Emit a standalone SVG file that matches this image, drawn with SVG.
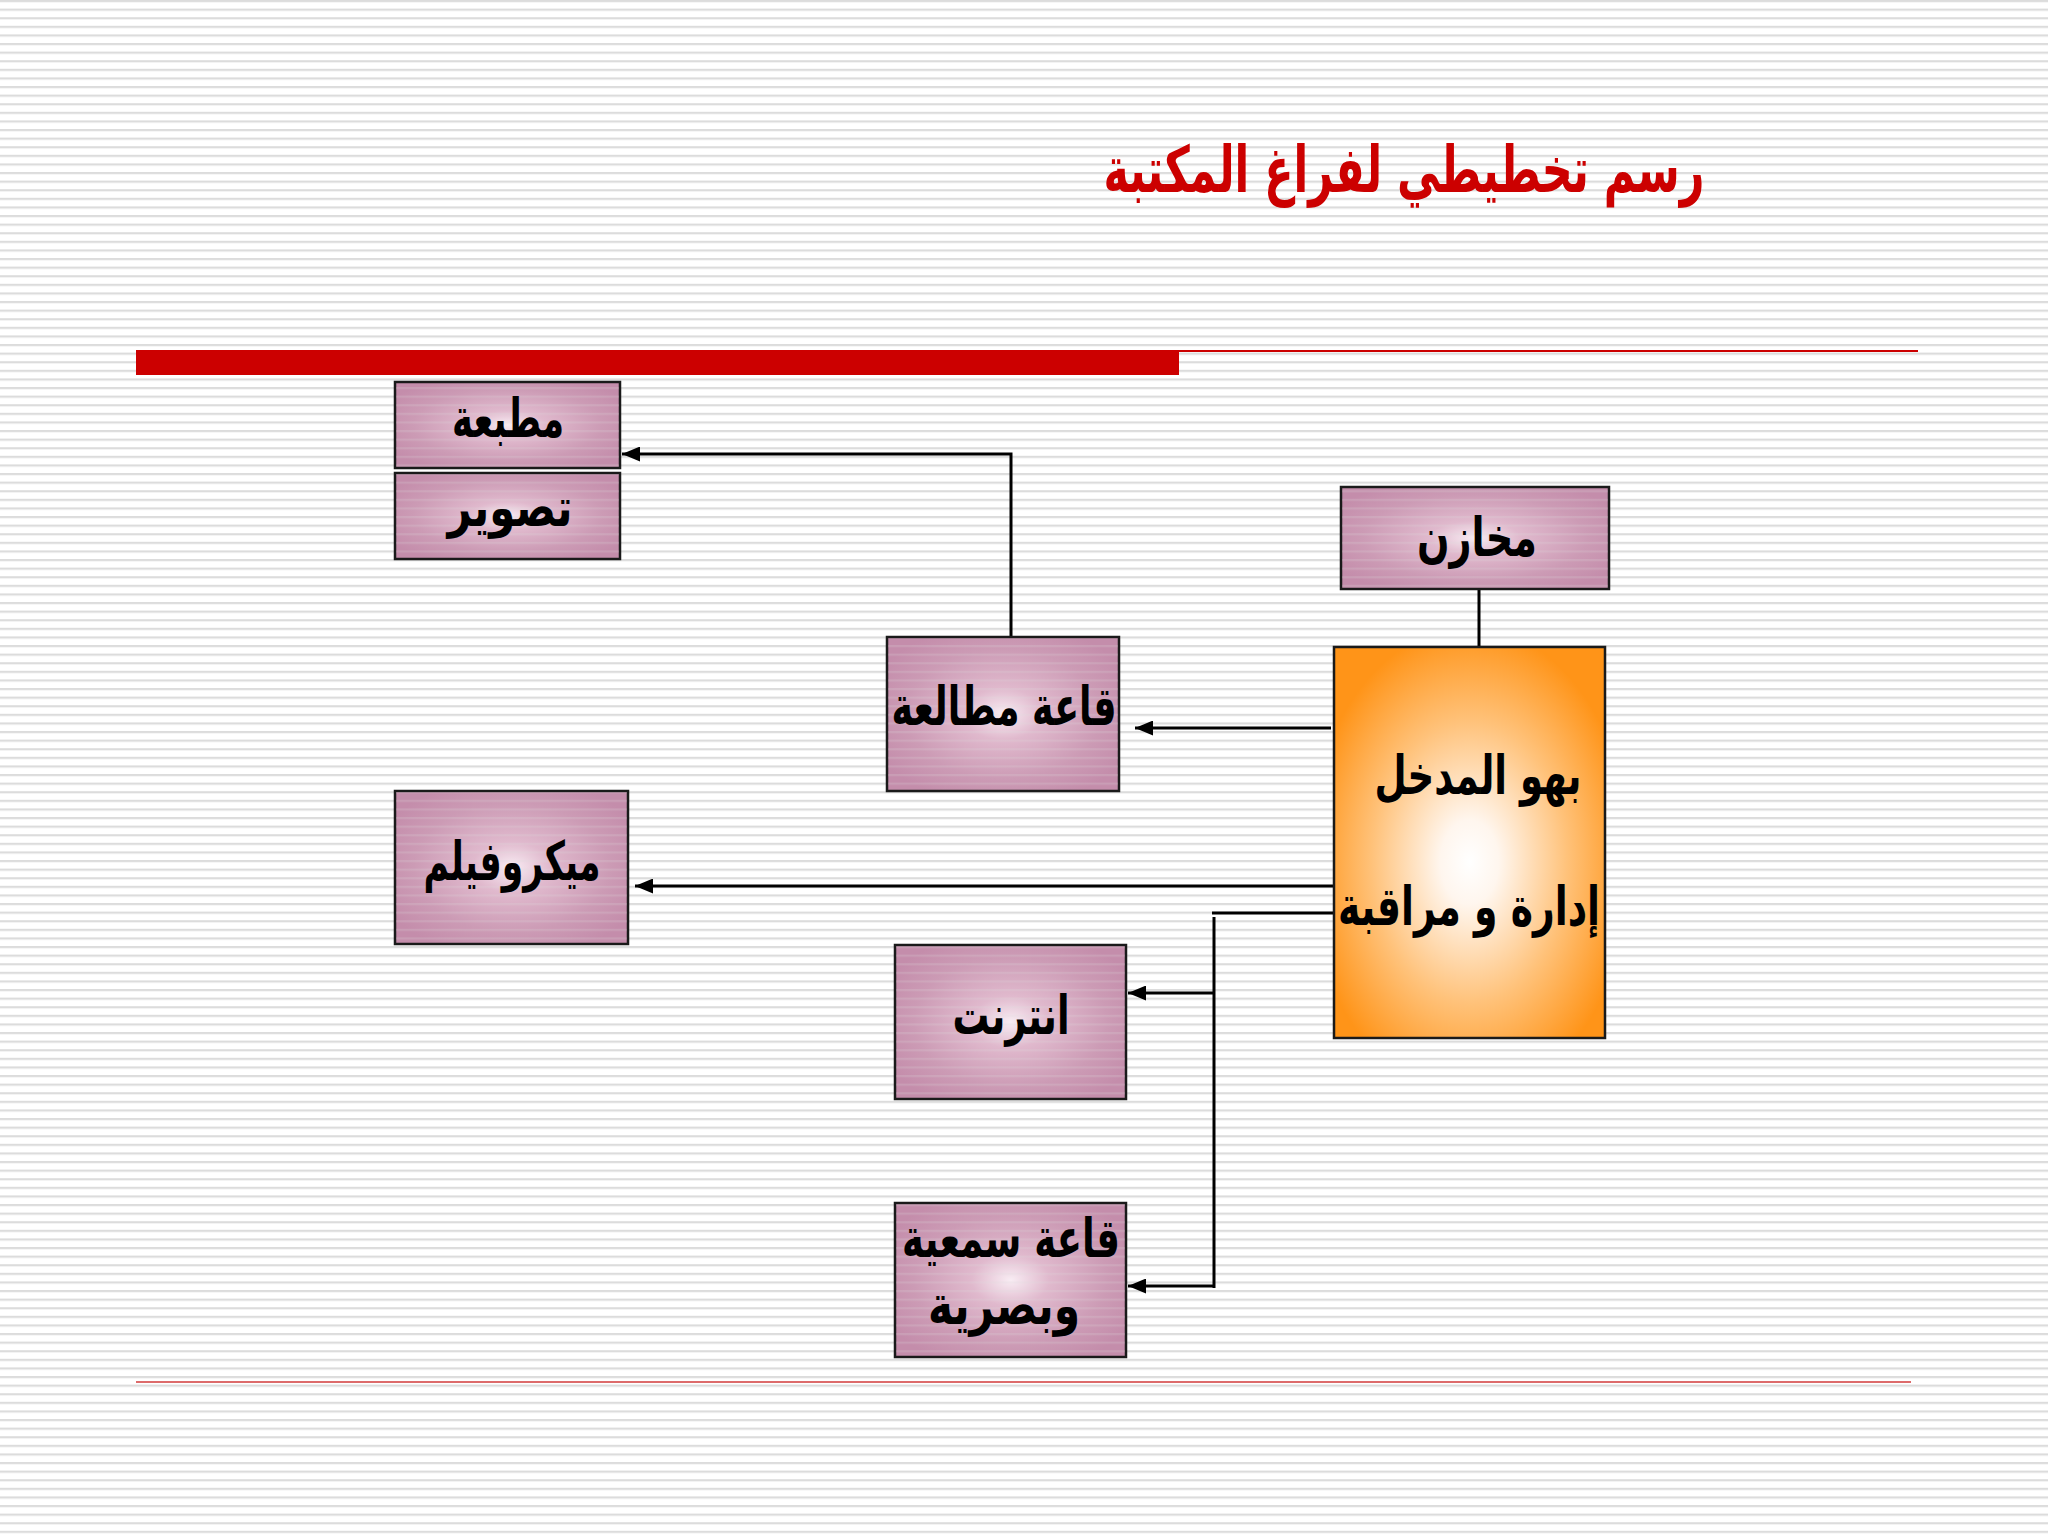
<svg xmlns="http://www.w3.org/2000/svg" width="2048" height="1536" viewBox="0 0 2048 1536">
<defs>
<pattern id="stripes" patternUnits="userSpaceOnUse" width="16" height="8.6">
<rect x="0" y="0" width="16" height="2.2" fill="#dcdcdc"/>
</pattern>
<radialGradient id="pink" cx="0.5" cy="0.5" r="0.6">
<stop offset="0" stop-color="#f8ecf3"/>
<stop offset="0.28" stop-color="#e0b9cd"/>
<stop offset="0.7" stop-color="#cc9bb5"/>
<stop offset="1" stop-color="#c48dab"/>
</radialGradient>
<radialGradient id="orange" cx="0.5" cy="0.55" r="0.6">
<stop offset="0" stop-color="#ffffff"/>
<stop offset="0.18" stop-color="#fff6ee"/>
<stop offset="0.6" stop-color="#ffc27a"/>
<stop offset="1" stop-color="#ff9418"/>
</radialGradient>
<marker id="arr" viewBox="0 0 18 15" refX="18" refY="7.5" markerWidth="18" markerHeight="15" markerUnits="userSpaceOnUse" orient="auto">
<path d="M0,0 L18,7.5 L0,15 Z" fill="#000"/>
</marker>
<style>
.box{fill:url(#pink);stroke:#1a1a1a;stroke-width:2.5}
.stripeover{fill:url(#stripes);opacity:0.2}
.lbl{font-family:"DejaVu Sans","Noto Sans",sans-serif;font-weight:bold;font-size:54px;fill:#000;text-anchor:middle}
.conn{fill:none;stroke:#000;stroke-width:3}
</style>
</defs>
<rect width="2048" height="1536" fill="#ffffff"/>
<rect width="2048" height="1536" fill="url(#stripes)"/>

<g id="title">
<text x="1404" y="192" direction="rtl" text-anchor="middle" textLength="601" lengthAdjust="spacingAndGlyphs" font-family="DejaVu Sans, sans-serif" font-weight="bold" font-size="64" fill="#cc0000">رسم تخطيطي لفراغ المكتبة</text>
</g>
<g id="rules">
<rect x="136" y="350" width="1043" height="25" fill="#cc0000"/>
<line x1="1179" y1="351" x2="1918" y2="351" stroke="#cc0000" stroke-width="2"/>
<line x1="136" y1="1382" x2="1911" y2="1382" stroke="#d23a3a" stroke-width="1.5"/>
</g>

<g id="connectors">
<polyline class="conn" points="1011,636 1011,454 622,454" marker-end="url(#arr)"/>
<line class="conn" x1="1479" y1="589" x2="1479" y2="647"/>
<line class="conn" x1="1331" y1="728" x2="1135" y2="728" marker-end="url(#arr)"/>
<line class="conn" x1="1334" y1="886" x2="635" y2="886" marker-end="url(#arr)"/>
<line class="conn" x1="1338" y1="913" x2="1212" y2="913"/>
<line class="conn" x1="1214" y1="917" x2="1214" y2="1288"/>
<line class="conn" x1="1214" y1="993" x2="1128" y2="993" marker-end="url(#arr)"/>
<line class="conn" x1="1214" y1="1286" x2="1128" y2="1286" marker-end="url(#arr)"/>
</g>

<g id="node-matbaa">
<rect class="box" x="395" y="382" width="225" height="86"/>
<rect class="stripeover" x="396" y="383" width="223" height="84"/>
<text class="lbl" x="508" y="437" direction="rtl" textLength="112" lengthAdjust="spacingAndGlyphs">مطبعة</text>
</g>
<g id="node-tasweer">
<rect class="box" x="395" y="473" width="225" height="86"/>
<rect class="stripeover" x="396" y="474" width="223" height="84"/>
<text class="lbl" x="510" y="526" direction="rtl" textLength="125" lengthAdjust="spacingAndGlyphs">تصوير</text>
</g>
<g id="node-makhazin">
<rect class="box" x="1341" y="487" width="268" height="102"/>
<rect class="stripeover" x="1342" y="488" width="266" height="100"/>
<text class="lbl" x="1477" y="556" direction="rtl" textLength="120" lengthAdjust="spacingAndGlyphs">مخازن</text>
</g>
<g id="node-mutalaa">
<rect class="box" x="887" y="637" width="232" height="154"/>
<rect class="stripeover" x="888" y="638" width="230" height="152"/>
<text class="lbl" x="1004" y="725" direction="rtl" textLength="225" lengthAdjust="spacingAndGlyphs">قاعة مطالعة</text>
</g>
<g id="node-bahw">
<rect x="1334" y="647" width="271" height="391" fill="url(#orange)" stroke="#1a1a1a" stroke-width="2.5"/>
<text class="lbl" x="1478" y="794" direction="rtl" textLength="207" lengthAdjust="spacingAndGlyphs">بهو المدخل</text>
<text class="lbl" x="1469" y="925" direction="rtl" textLength="262" lengthAdjust="spacingAndGlyphs">إدارة و مراقبة</text>
</g>
<g id="node-microfilm">
<rect class="box" x="395" y="791" width="233" height="153"/>
<rect class="stripeover" x="396" y="792" width="231" height="151"/>
<text class="lbl" x="512" y="880" direction="rtl" textLength="177" lengthAdjust="spacingAndGlyphs">ميكروفيلم</text>
</g>
<g id="node-internet">
<rect class="box" x="895" y="945" width="231" height="154"/>
<rect class="stripeover" x="896" y="946" width="229" height="152"/>
<text class="lbl" x="1011" y="1034" direction="rtl" textLength="117" lengthAdjust="spacingAndGlyphs">انترنت</text>
</g>
<g id="node-samiya">
<rect class="box" x="895" y="1203" width="231" height="154"/>
<rect class="stripeover" x="896" y="1204" width="229" height="152"/>
<text class="lbl" x="1011" y="1257" direction="rtl" textLength="218" lengthAdjust="spacingAndGlyphs">قاعة سمعية</text>
<text class="lbl" x="1004" y="1324" direction="rtl" textLength="152" lengthAdjust="spacingAndGlyphs">وبصرية</text>
</g>
</svg>
